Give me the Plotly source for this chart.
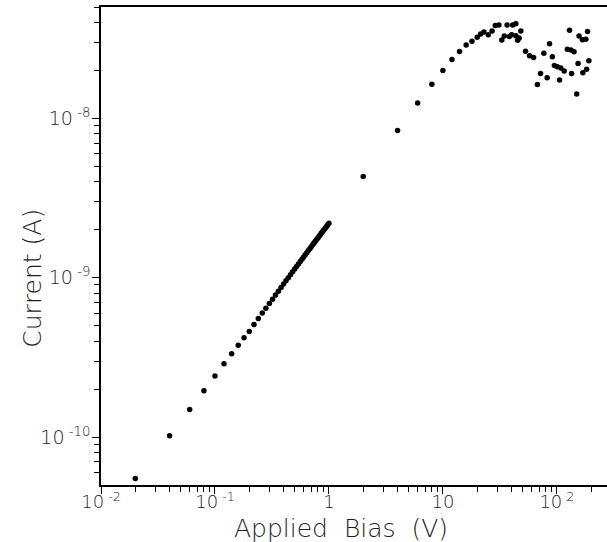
import math
import plotly.graph_objects as go

# Applied bias (V)
bias_v = [
    0.02, 0.04, 0.06, 0.08, 0.10, 0.12, 0.14, 0.16, 0.18, 0.20,
    0.22, 0.24, 0.26, 0.28, 0.30, 0.32, 0.34, 0.36, 0.38, 0.40,
    0.42, 0.44, 0.46, 0.48, 0.50, 0.52, 0.54, 0.56, 0.58, 0.60,
    0.62, 0.64, 0.66, 0.68, 0.70, 0.72, 0.74, 0.76, 0.78, 0.80,
    0.82, 0.84, 0.86, 0.88, 0.90, 0.92, 0.94, 0.96, 0.98, 1.00,
    2, 4, 6, 8, 10, 12, 14, 16, 18, 20,
    21.4, 22.9, 25.0, 27.0, 28.8, 31.0, 32.9, 34.6, 36.6, 38.3,
    40.1, 40.9, 43.7, 43.7, 45.3, 46.7, 48.3, 53.1, 57.6, 62.5,
    67.5, 71.9, 76.9, 82.2, 86.3, 91.3, 95.1, 101.0, 105.6, 108.4,
    115.9, 123.6, 129.2, 133.2, 134.6, 141.5, 149.2, 153.5, 156.6, 167.4,
    169.1, 179.6, 182.5, 185.9, 190.9,
]

# Current in nA
current_nA = [
    0.055, 0.102, 0.149, 0.195, 0.242, 0.288, 0.333, 0.377, 0.420, 0.460,
    0.508, 0.554, 0.600, 0.644, 0.689, 0.733, 0.778, 0.823, 0.868, 0.912,
    0.956, 1.000, 1.044, 1.088, 1.132, 1.176, 1.220, 1.263, 1.307, 1.350,
    1.393, 1.436, 1.479, 1.522, 1.565, 1.608, 1.651, 1.693, 1.736, 1.778,
    1.821, 1.863, 1.905, 1.947, 1.989, 2.031, 2.073, 2.114, 2.156, 2.195,
    4.31, 8.4, 12.5, 16.4, 20.0, 23.4, 26.3, 28.9, 30.5, 32.3,
    33.9, 34.8, 33.5, 35.3, 38.3, 38.6, 31.0, 32.9, 38.5, 32.6,
    33.5, 38.6, 39.3, 33.0, 30.9, 32.0, 35.3, 26.4, 24.7, 24.1,
    16.3, 19.1, 25.6, 18.0, 29.4, 24.4, 21.5, 21.1, 17.4, 20.7,
    19.8, 27.2, 35.7, 26.9, 19.1, 26.2, 14.2, 22.1, 32.9, 31.2,
    19.3, 31.4, 20.3, 35.1, 23.0,
]

current_a = [v * 1e-9 for v in current_nA]

x_major = [0.01, 0.1, 1, 10, 100]
x_major_text = ["10<sup> -2</sup>", "10<sup> -1</sup>", "1", "10", "10<sup> 2</sup>"]
x_minor = [m * d for d in [0.01, 0.1, 1, 10] for m in range(2, 10)] + [200]

y_major = [1e-10, 1e-9, 1e-8]
y_major_text = ["10<sup> -10</sup>", "10<sup> -9</sup>", "10<sup> -8</sup>"]
y_minor = [m * 1e-11 for m in range(6, 10)] + [m * d for d in [1e-10, 1e-9] for m in range(2, 10)] + \
          [m * 1e-8 for m in range(2, 6)]

FONT = "DejaVu Sans"
TXT = "#1e1e1e"

fig = go.Figure()
fig.add_trace(go.Scatter(
    x=bias_v, y=current_a, mode="markers",
    marker=dict(color="black", size=5.5, line=dict(width=0)),
    showlegend=False, hoverinfo="x+y",
))

fig.update_layout(
    width=607, height=542,
    margin=dict(l=101, r=0, t=7, b=57),
    paper_bgcolor="white", plot_bgcolor="white",
    font=dict(family=FONT, size=18, color=TXT),
    xaxis=dict(
        type="log", range=[-2, 2.44], automargin=False,
        showgrid=False, zeroline=False,
        showline=True, linecolor="black", linewidth=1.5, mirror=True,
        ticks="outside", ticklen=7, tickwidth=1, tickcolor="black",
        tickmode="array", tickvals=x_major, ticktext=x_major_text,
        ticklabelstandoff=-7,
        tickfont=dict(family=FONT, size=18, color=TXT, weight=200),
        minor=dict(tickmode="array", tickvals=x_minor, ticks="outside",
                   ticklen=5, tickwidth=1, tickcolor="black", showgrid=False),
    ),
    yaxis=dict(
        type="log", range=[math.log10(5e-11), math.log10(5e-8)], automargin=False,
        showgrid=False, zeroline=False,
        showline=True, linecolor="black", linewidth=1.5, mirror=False,
        ticks="outside", ticklen=7, tickwidth=1, tickcolor="black",
        tickmode="array", tickvals=y_major, ticktext=y_major_text,
        ticklabelstandoff=-2,
        tickfont=dict(family=FONT, size=19, color=TXT, weight=200),
        minor=dict(tickmode="array", tickvals=y_minor, ticks="outside",
                   ticklen=5, tickwidth=1, tickcolor="black", showgrid=False),
    ),
    annotations=[
        dict(text="Applied  Bias  (V)", xref="paper", yref="paper",
             x=0.474, y=-0.091, xanchor="center", yanchor="middle",
             showarrow=False, font=dict(family=FONT, size=25, color=TXT, weight=200)),
        dict(text="Current (A)", xref="paper", yref="paper",
             x=-0.136, y=0.432, xanchor="center", yanchor="middle",
             textangle=-90, showarrow=False,
             font=dict(family=FONT, size=25, color=TXT, weight=200)),
    ],
)

fig.write_html("out.html", config={"displayModeBar": False},
               post_script="document.body.style.margin='0';")
